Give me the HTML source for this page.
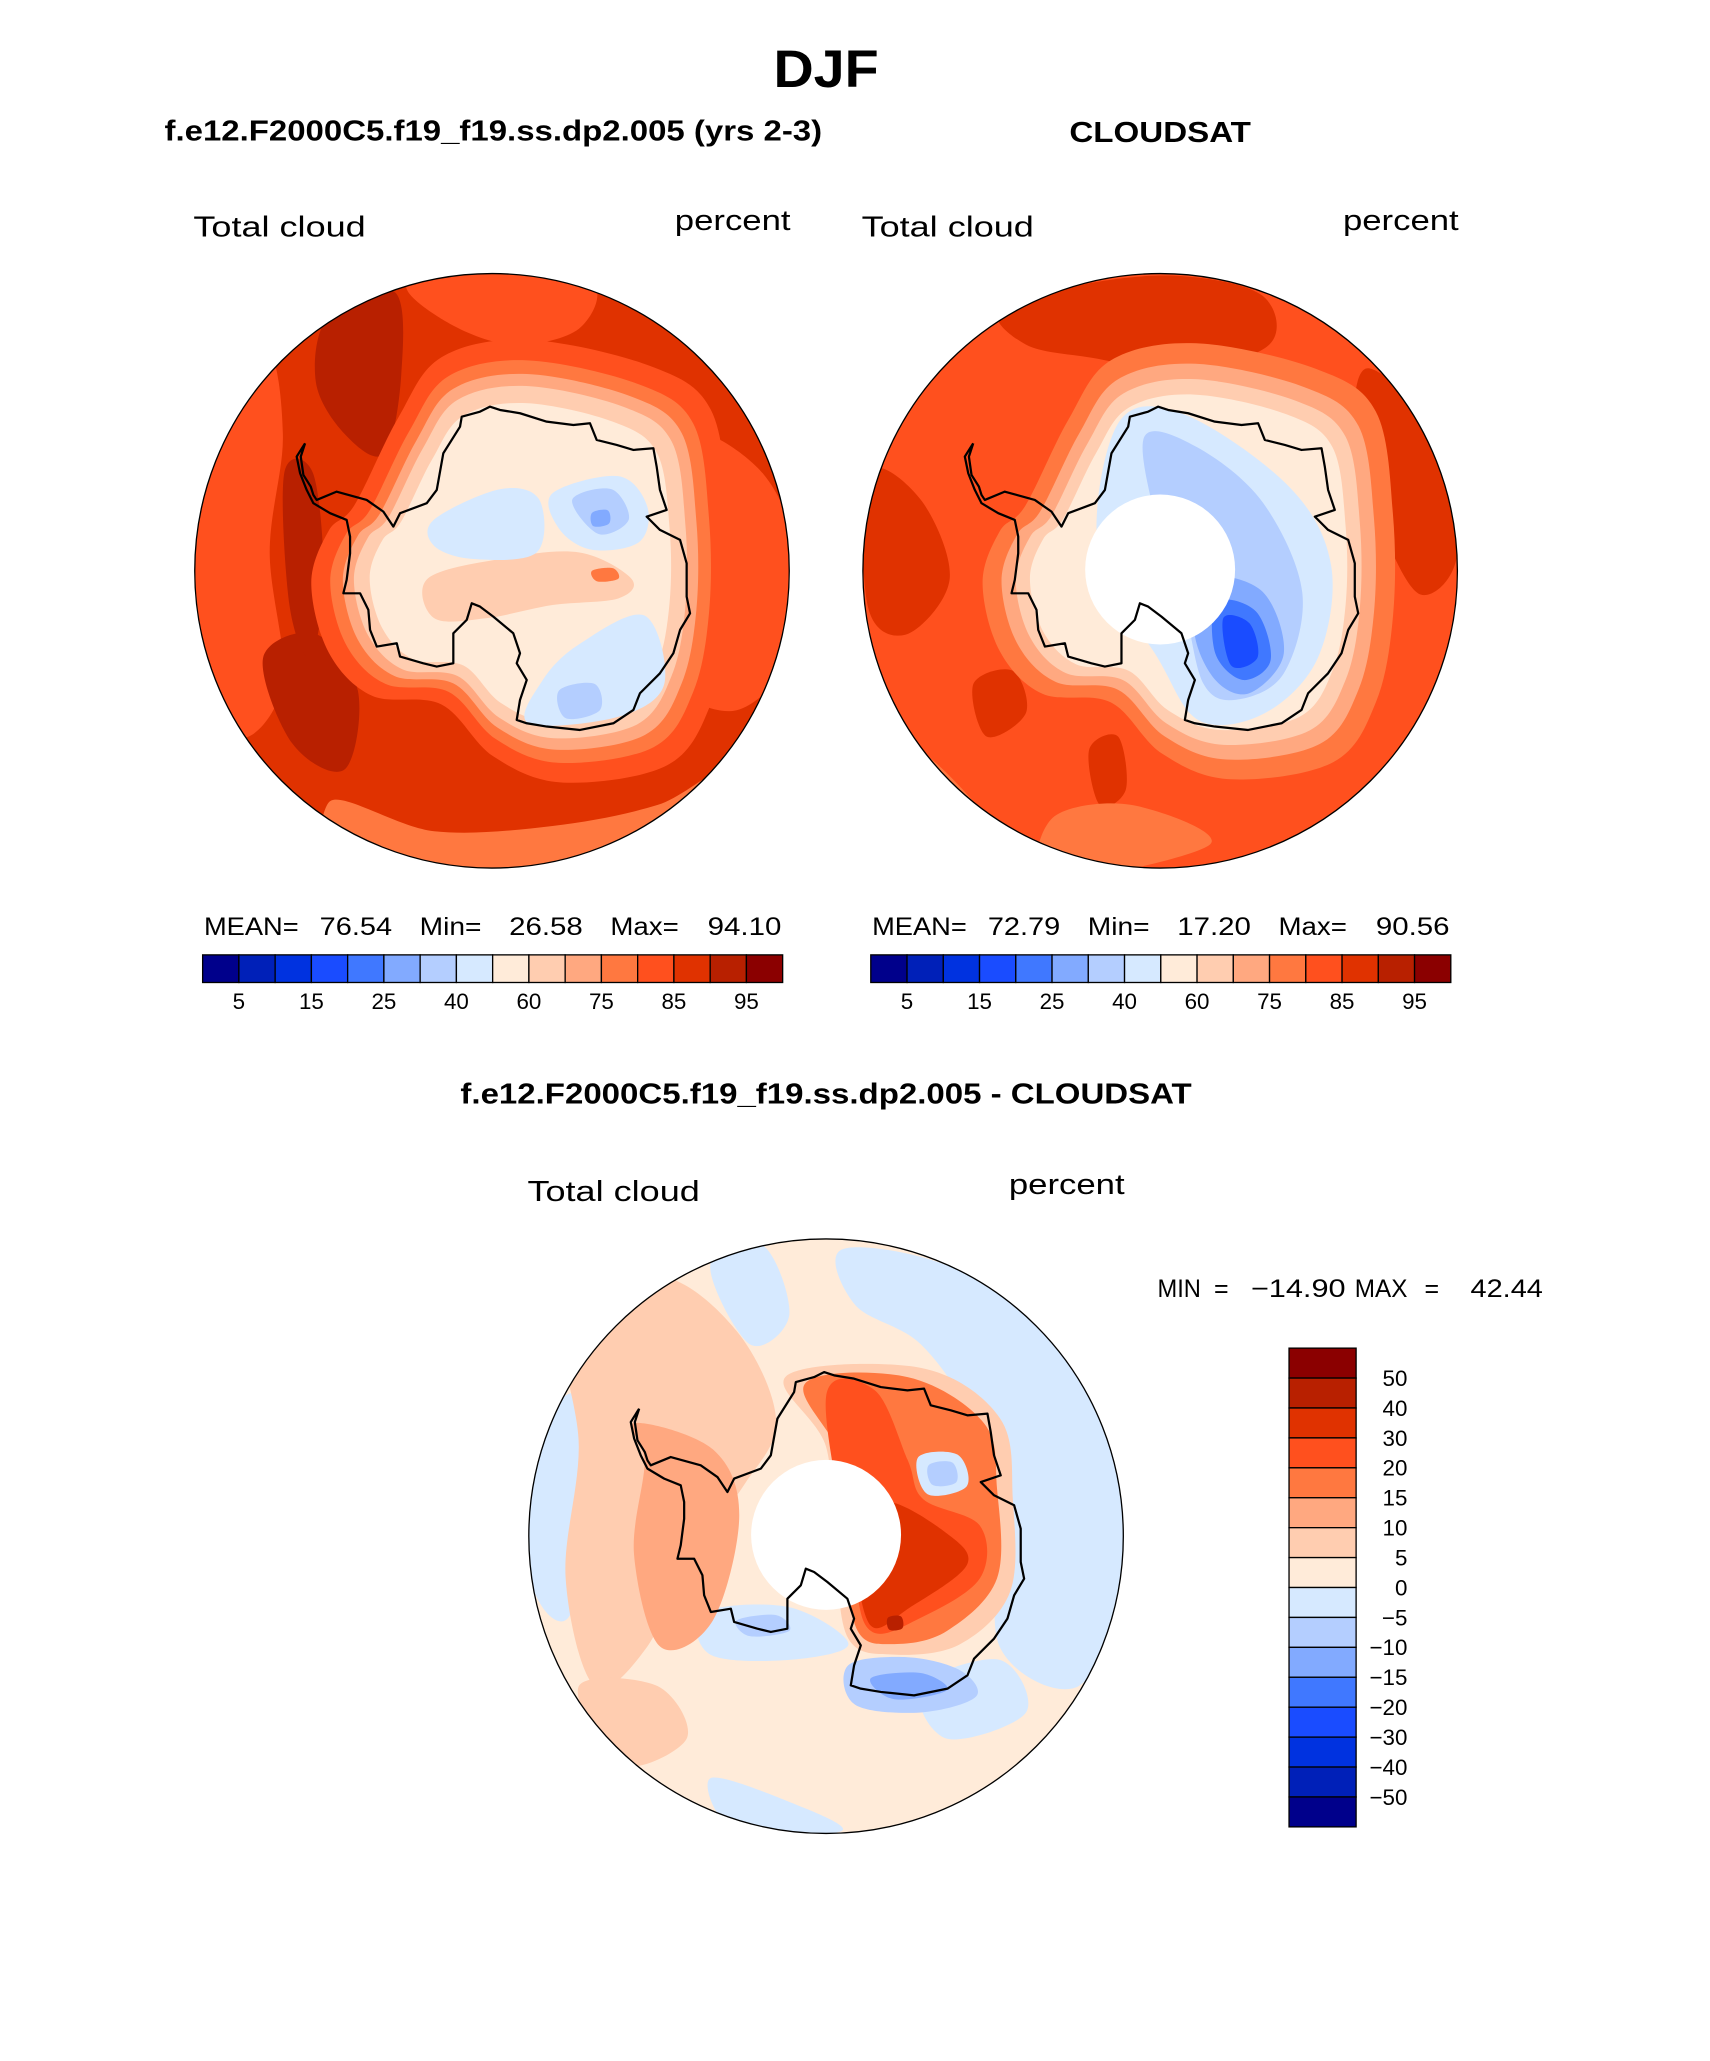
<!DOCTYPE html>
<html><head><meta charset="utf-8"><title>DJF Total cloud</title>
<style>html,body{margin:0;padding:0;background:#fff;overflow:hidden;width:1710px;height:2061px}svg{display:block}</style></head>
<body>
<svg id="fig" xmlns="http://www.w3.org/2000/svg" width="1710" height="2061" viewBox="0 0 1300 1567" font-family="'Liberation Sans', sans-serif">
<rect width="1300" height="1567" fill="#fff"/>
<text x="628" y="66" text-anchor="middle" font-size="40" font-weight="bold" textLength="80" lengthAdjust="spacingAndGlyphs">DJF</text>
<text x="125" y="107" font-size="22" font-weight="bold" textLength="500" lengthAdjust="spacingAndGlyphs">f.e12.F2000C5.f19_f19.ss.dp2.005 (yrs 2-3)</text>
<text x="882" y="108" text-anchor="middle" font-size="22" font-weight="bold" textLength="138" lengthAdjust="spacingAndGlyphs">CLOUDSAT</text>
<text x="628" y="839" text-anchor="middle" font-size="22" font-weight="bold" textLength="556" lengthAdjust="spacingAndGlyphs">f.e12.F2000C5.f19_f19.ss.dp2.005 - CLOUDSAT</text>

<text x="147" y="180" font-size="22" textLength="131" lengthAdjust="spacingAndGlyphs">Total cloud</text>
<text x="513" y="175" font-size="22" textLength="88" lengthAdjust="spacingAndGlyphs">percent</text>
<text x="655" y="180" font-size="22" textLength="131" lengthAdjust="spacingAndGlyphs">Total cloud</text>
<text x="1021" y="175" font-size="22" textLength="88" lengthAdjust="spacingAndGlyphs">percent</text>
<text x="401" y="913" font-size="22" textLength="131" lengthAdjust="spacingAndGlyphs">Total cloud</text>
<text x="767" y="908" font-size="22" textLength="88" lengthAdjust="spacingAndGlyphs">percent</text>

<g font-size="19" lengthAdjust="spacingAndGlyphs">
<text x="155" y="711" textLength="72" lengthAdjust="spacingAndGlyphs">MEAN=</text><text x="243" y="711" textLength="55" lengthAdjust="spacingAndGlyphs">76.54</text><text x="319" y="711" textLength="47" lengthAdjust="spacingAndGlyphs">Min=</text><text x="387" y="711" textLength="56" lengthAdjust="spacingAndGlyphs">26.58</text><text x="464" y="711" textLength="52" lengthAdjust="spacingAndGlyphs">Max=</text><text x="538" y="711" textLength="56" lengthAdjust="spacingAndGlyphs">94.10</text>
</g>
<g font-size="19">
<text x="663" y="711" textLength="72" lengthAdjust="spacingAndGlyphs">MEAN=</text><text x="751" y="711" textLength="55" lengthAdjust="spacingAndGlyphs">72.79</text><text x="827" y="711" textLength="47" lengthAdjust="spacingAndGlyphs">Min=</text><text x="895" y="711" textLength="56" lengthAdjust="spacingAndGlyphs">17.20</text><text x="972" y="711" textLength="52" lengthAdjust="spacingAndGlyphs">Max=</text><text x="1046" y="711" textLength="56" lengthAdjust="spacingAndGlyphs">90.56</text>
</g>
<g font-size="19">
<text x="880" y="986" textLength="33" lengthAdjust="spacingAndGlyphs">MIN</text><text x="923" y="986">=</text><text x="951" y="986" textLength="72" lengthAdjust="spacingAndGlyphs">−14.90</text><text x="1030" y="986" textLength="40" lengthAdjust="spacingAndGlyphs">MAX</text><text x="1083" y="986">=</text><text x="1118" y="986" textLength="55" lengthAdjust="spacingAndGlyphs">42.44</text>
</g>
<g id="layer"></g>
</svg>
<script>
const NS='http://www.w3.org/2000/svg';
const absLevels=['5','15','25','40','60','75','85','95'];
const diffLevels=['50','40','30','20','15','10','5','0','−5','−10','−15','−20','−30','−40','−50'];
const palette=['#00008b','#0020b8','#0032e0','#1a4cff','#4078ff','#82aaff','#b4ceff','#d6e9ff','#ffebd9','#ffcdb0','#ffa880','#ff7840','#ff501e','#e03200','#b82000','#8b0000'];
const coastZ=[[75,190],[62,230],[70,285],[92,320],[100,345],[110,360],[170,335],[260,360],[310,395],[340,440],[360,400],[440,370],[470,330],[490,220],[540,140],[545,110],[600,95],[630,80],[660,90],[720,100],[800,125],[880,135],[930,130],[950,180],[1010,195],[1060,210],[1120,205],[1130,260],[1140,330],[1160,390],[1100,410],[1140,450],[1200,480],[1220,550],[1220,650],[1230,700],[1200,750],[1180,820],[1140,880],[1080,940],[1060,990],[1000,1030],[900,1050],[800,1040],[740,1030],[710,1020],[720,960],[740,900],[710,850],[720,820],[700,760],[640,710],[600,680],[575,670],[560,720],[520,760],[520,800],[520,850],[470,860],[430,850],[360,830],[350,790],[290,800],[270,750],[265,690],[240,640],[190,640],[200,600],[210,520],[210,470],[200,420],[150,400],[100,370],[80,330],[60,280],[50,230]];
const coast=coastZ.map(p=>[(280+p[0]/3)/1.3154,(380+p[1]/3)/1.3154]);
const hull=[[300,395],[325,345],[350,310],[400,300],[470,315],[505,340],[515,400],[515,460],[505,510],[480,545],[420,555],[380,540],[350,510],[310,505],[285,480],[275,440],[285,410]];
const layer=document.getElementById('layer');
function el(t,a){const e=document.createElementNS(NS,t);for(const k in a)e.setAttribute(k,a[k]);return e;}
function smooth(pts){let d='';const n=pts.length;for(let i=0;i<n;i++){const p0=pts[(i-1+n)%n],p1=pts[i],p2=pts[(i+1)%n],p3=pts[(i+2)%n];if(i===0)d+='M'+p1[0].toFixed(1)+','+p1[1].toFixed(1);const c1=[p1[0]+(p2[0]-p0[0])/6,p1[1]+(p2[1]-p0[1])/6],c2=[p2[0]-(p3[0]-p1[0])/6,p2[1]-(p3[1]-p1[1])/6];d+='C'+c1.map(v=>v.toFixed(1))+' '+c2.map(v=>v.toFixed(1))+' '+p2.map(v=>v.toFixed(1));}return d+'Z';}
function scaled(pts,s,cx,cy,dx,dy){return pts.map(p=>[cx+(p[0]-cx)*s+dx,cy+(p[1]-cy)*s+dy]);}
function drawMap(name,cx,cy,dx,dy,base,rings,patches,hole){
  const g=el('g',{});
  const cid='clip-'+name;const cp=el('clipPath',{id:cid});cp.appendChild(el('circle',{cx:cx,cy:cy,r:226}));g.appendChild(cp);
  const f=el('g',{'clip-path':'url(#'+cid+')'});
  f.appendChild(el('circle',{cx:cx,cy:cy,r:227,fill:base}));
  patches.forEach(p=>{if(p.ring)return;const e=el('path',{d:smooth(p.pts),fill:p.c});f.appendChild(e);});
  rings.forEach(r=>{const e=el('path',{d:smooth(scaled(hull,r[0],395,430,dx,dy)),fill:r[1]});f.appendChild(e);});
  patches.forEach(p=>{if(!p.ring)return;const e=el('path',{d:smooth(p.pts),fill:p.c});f.appendChild(e);});
  if(hole){const h=el('circle',{cx:cx,cy:cy-1,r:57,fill:'#fff'});f.appendChild(h);}
  const c=el('polyline',{points:coast.map(p=>(p[0]+dx).toFixed(1)+','+(p[1]+dy).toFixed(1)).join(' ')+' '+(coast[0][0]+dx)+','+(coast[0][1]+dy),fill:'none',stroke:'#000','stroke-width':1.7,'stroke-linejoin':'round'});
  f.appendChild(c);
  g.appendChild(f);
  const o=el('circle',{cx:cx,cy:cy,r:226,fill:'none',stroke:'#000','stroke-width':1});g.appendChild(o);
  layer.appendChild(g);
}
drawMap('model-map',374,434,0,0,'#e03200',
 [[1.32,'#ff501e'],[1.2,'#ff7840'],[1.12,'#ffa880'],[1.05,'#ffcdb0'],[0.95,'#ffebd9']],
 [{c:'#ff501e',pts:[[150,300],[200,260],[215,330],[205,420],[215,520],[180,560],[150,480]]},
  {c:'#ff501e',pts:[[530,330],[580,360],[605,420],[600,500],[560,540],[520,520],[545,450],[540,390]]},
  {c:'#ff501e',pts:[[310,215],[380,205],[450,215],[440,250],[390,262],[340,245]]},
  {c:'#ff7840',pts:[[250,610],[330,632],[420,628],[500,612],[560,585],[530,690],[280,690]]},
  {c:'#b82000',pts:[[250,240],[300,222],[305,285],[292,345],[262,330],[240,290]]},
  {c:'#b82000',pts:[[200,500],[240,482],[272,525],[262,585],[222,565]]},
  {c:'#b82000',pts:[[216,360],[238,360],[246,440],[236,500],[220,460]]},
  {ring:1,c:'#ffcdb0',pts:[[325,440],[380,425],[440,420],[480,440],[470,455],[420,460],[370,470],[330,470]]},
  {ring:1,c:'#d6e9ff',pts:[[330,395],[380,372],[410,380],[408,420],[360,425],[330,415]]},
  {ring:1,c:'#d6e9ff',pts:[[420,375],[470,362],[492,385],[486,412],[450,418],[425,402]]},
  {ring:1,c:'#b4ceff',pts:[[435,380],[465,372],[478,395],[455,406]]},
  {ring:1,c:'#82aaff',pts:[[450,390],[462,388],[463,398],[451,400]]},
  {ring:1,c:'#d6e9ff',pts:[[440,490],[490,468],[505,520],[470,545],[402,550],[412,518]]},
  {ring:1,c:'#b4ceff',pts:[[425,525],[452,520],[456,540],[430,546]]},
  {ring:1,c:'#ff7840',pts:[[450,434],[466,432],[470,440],[454,442]]}],false);
drawMap('cloudsat-map',882,434,508,0,'#ff501e',
 [[1.3,'#ff7840'],[1.18,'#ffa880'],[1.09,'#ffcdb0'],[1.0,'#ffebd9']],
 [{c:'#e03200',pts:[[760,235],[830,215],[900,210],[960,225],[965,262],[900,282],[830,272],[780,262]]},
  {c:'#e03200',pts:[[1040,280],[1090,330],[1108,420],[1080,452],[1050,400],[1030,330]]},
  {c:'#e03200',pts:[[660,360],[700,380],[722,440],[690,482],[660,462]]},
  {c:'#e03200',pts:[[828,570],[850,560],[856,600],[836,612]]},
  {c:'#e03200',pts:[[740,520],[770,510],[780,542],[750,560]]},
  {c:'#ff7840',pts:[[680,560],[722,590],[762,642],[700,622]]},
  {c:'#ff7840',pts:[[800,622],[860,612],[920,642],[800,668]]},
  {ring:1,c:'#d6e9ff',pts:[[850,322],[900,315],[980,370],[1012,430],[1002,500],[962,542],[912,548],[880,500],[835,420]]},
  {ring:1,c:'#b4ceff',pts:[[870,332],[910,340],[960,382],[990,450],[976,512],[940,532],[915,520],[900,460],[880,400]]},
  {ring:1,c:'#82aaff',pts:[[918,440],[960,450],[976,497],[950,527],[924,517],[908,480]]},
  {ring:1,c:'#4078ff',pts:[[925,458],[955,465],[966,502],[945,517],[924,497]]},
  {ring:1,c:'#1a4cff',pts:[[930,470],[950,474],[956,500],[936,506]]}],true);
drawMap('difference-map',628,1168,254,734,'#ffebd9',[],
 [{c:'#d6e9ff',pts:[[640,950],[720,962],[800,1012],[850,1100],[852,1200],[820,1282],[760,1252],[760,1150],[740,1080],[700,1022],[650,992]]},
  {c:'#d6e9ff',pts:[[540,962],[580,947],[600,1000],[570,1022]]},
  {c:'#d6e9ff',pts:[[403,1100],[440,1060],[452,1140],[432,1230],[403,1200]]},
  {c:'#d6e9ff',pts:[[540,1352],[600,1370],[640,1392],[560,1392]]},
  {c:'#d6e9ff',pts:[[535,1226],[600,1222],[645,1250],[600,1262],[540,1258]]},
  {c:'#d6e9ff',pts:[[700,1282],[760,1262],[780,1302],[720,1322]]},
  {c:'#ffcdb0',pts:[[430,1000],[500,970],[560,1012],[590,1080],[565,1130],[525,1182],[492,1252],[452,1282],[430,1200],[440,1100]]},
  {c:'#ffcdb0',pts:[[440,1282],[500,1282],[522,1322],[470,1342]]},
  {c:'#ffa880',pts:[[482,1082],[542,1102],[562,1152],[542,1232],[502,1252],[482,1182],[490,1112]]},
  {c:'#ffcdb0',pts:[[598,1046],[700,1040],[760,1078],[770,1140],[768,1210],[730,1250],[680,1258],[645,1246],[635,1180],[628,1100]]},
  {c:'#ff7840',pts:[[612,1052],[690,1047],[748,1082],[758,1132],[758,1200],[720,1240],[680,1250],[652,1240],[642,1180],[640,1110]]},
  {c:'#ff501e',pts:[[628,1062],[665,1057],[690,1110],[702,1140],[745,1160],[745,1200],[700,1230],[662,1240],[648,1190]]},
  {c:'#e03200',pts:[[672,1142],[720,1166],[735,1190],[692,1222],[662,1236],[652,1180]]},
  {c:'#b82000',pts:[[675,1230],[685,1229],[686,1238],[676,1239]]},
  {c:'#d6e9ff',pts:[[698,1108],[728,1106],[735,1130],[705,1136]]},
  {c:'#b4ceff',pts:[[706,1114],[724,1112],[727,1127],[709,1129]]},
  {c:'#b4ceff',pts:[[645,1266],[690,1260],[730,1270],[742,1290],[700,1302],[650,1296]]},
  {c:'#82aaff',pts:[[662,1276],[700,1272],[720,1285],[680,1292]]},
  {c:'#b4ceff',pts:[[560,1232],[590,1228],[600,1240],[570,1244]]}],true);

function hbar(name,x0,y0,w,h){
  const g=el('g',{});
  const bw=w/palette.length;
  palette.forEach((c,i)=>{const r=el('rect',{x:x0+i*bw,y:y0,width:bw,height:h,fill:c,stroke:'#000','stroke-width':1});g.appendChild(r);});
  absLevels.forEach((t,i)=>{const tx=el('text',{x:x0+(1+2*i)*bw,y:y0+h+20,'text-anchor':'middle','font-size':17});tx.textContent=t;g.appendChild(tx);});
  layer.appendChild(g);
}
hbar('model-colorbar',154,726,441,21);
hbar('cloudsat-colorbar',662,726,441,21);
(function(){
  const g=el('g',{});
  const x0=980,y0=1025,w=51,h=364,bh=h/palette.length;
  palette.slice().reverse().forEach((c,i)=>{const r=el('rect',{x:x0,y:y0+i*bh,width:w,height:bh,fill:c,stroke:'#000','stroke-width':1});g.appendChild(r);});
  diffLevels.forEach((t,i)=>{const tx=el('text',{x:1070,y:y0+(i+1)*bh+6,'text-anchor':'end','font-size':17});tx.textContent=t;g.appendChild(tx);});
  layer.appendChild(g);
})();
</script>
</body></html>
